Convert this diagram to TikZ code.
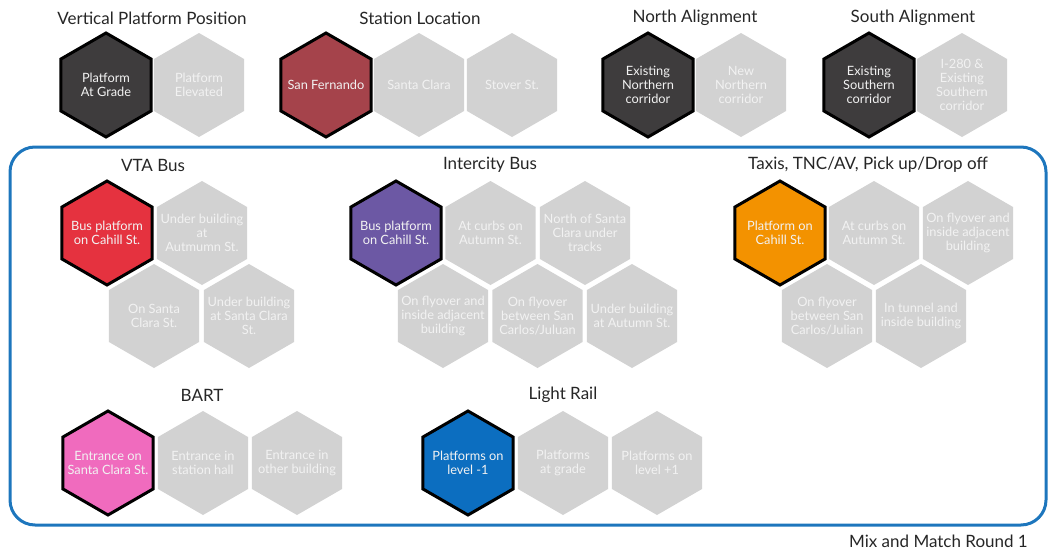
\documentclass[tikz,border=0pt]{standalone}
\usepackage{fontspec}
\setmainfont{Lato}
\usepackage{xcolor}
\usepackage{tikz}
\definecolor{c1}{HTML}{1D76BD}
\definecolor{c2}{HTML}{D2D2D2}
\definecolor{c3}{HTML}{3E3C3D}
\definecolor{c4}{HTML}{A5434B}
\definecolor{c5}{HTML}{E5323F}
\definecolor{c6}{HTML}{6C58A4}
\definecolor{c7}{HTML}{F39200}
\definecolor{c8}{HTML}{F06BBE}
\definecolor{c9}{HTML}{0C6EC0}
\definecolor{c10}{HTML}{F2F2F2}

% one cell: name, centre, fill, look, text
\newcommand{\hexcell}[5]{%
    \draw[#4, fill=#3] (#2) +(90:52) -- +(150:52) -- +(210:52)
        -- +(270:52) -- +(330:52) -- +(30:52) -- cycle;
    \node[hextext] (#1) at (#2) {#5};}

\begin{document}
\begin{tikzpicture}[x=1pt, y=-1pt,
    picked/.style={draw=black, line width=3pt, line join=miter},
    rest/.style={draw=none},
    hextext/.style={align=center, text=c10, inner sep=0pt, font=\fontsize{12.8}{14}\selectfont},
    title/.style={text=black!85, inner sep=0pt, font=\fontsize{17}{20}\selectfont}]
    \useasboundingbox (0,0) rectangle (1050,554);

    \draw[c1, line width=3pt, rounded corners=25] (10,147) rectangle (1046,525);

    % top row
    \node[title] (vpp) at (152,18) {Vertical Platform Position};
    \hexcell{vpp1}{106,85}{c3}{picked}{Platform\\At Grade}
    \hexcell{vpp2}{199,85}{c2}{rest}{Platform\\Elevated}

    \node[title] (loc) at (420,18) {Station Location};
    \hexcell{loc1}{326,85}{c4}{picked}{San Fernando}
    \hexcell{loc2}{419,85}{c2}{rest}{Santa Clara}
    \hexcell{loc3}{512,85}{c2}{rest}{Stover St.}

    \node[title] (north) at (695,18) {North Alignment};
    \hexcell{north1}{648,85}{c3}{picked}{Existing\\Northern\\corridor}
    \hexcell{north2}{741,85}{c2}{rest}{New\\Northern\\corridor}

    \node[title] (south) at (913,18) {South Alignment};
    \hexcell{south1}{869,85}{c3}{picked}{Existing\\Southern\\corridor}
    \hexcell{south2}{962,85}{c2}{rest}{I-280 \&\\Existing\\Southern\\corridor}

    % inside the frame
    \node[title] (vta) at (153,165) {VTA Bus};
    \hexcell{vta1}{107,233}{c5}{picked}{Bus platform\\on Cahill St.}
    \hexcell{vta2}{202,233}{c2}{rest}{Under building\\at\\Autmumn St.}
    \hexcell{vta3}{154,316}{c2}{rest}{On Santa\\Clara St.}
    \hexcell{vta4}{249,316}{c2}{rest}{Under building\\at Santa Clara\\St.}

    \node[title] (icb) at (490,165) {Intercity Bus};
    \hexcell{icb1}{396,233}{c6}{picked}{Bus platform\\on Cahill St.}
    \hexcell{icb2}{490.5,233}{c2}{rest}{At curbs on\\Autumn St.}
    \hexcell{icb3}{585,233}{c2}{rest}{North of Santa\\Clara under\\tracks}
    \hexcell{icb4}{443,316}{c2}{rest}{On flyover and\\inside adjacent\\building}
    \hexcell{icb5}{537.5,316}{c2}{rest}{On flyover\\between San\\Carlos/Juluan}
    \hexcell{icb6}{632,316}{c2}{rest}{Under building\\at Autumn St.}

    \node[title] (taxi) at (868,165) {Taxis, TNC/AV, Pick up/Drop off};
    \hexcell{taxi1}{780,233}{c7}{picked}{Platform on\\Cahill St.}
    \hexcell{taxi2}{874,233}{c2}{rest}{At curbs on\\Autumn St.}
    \hexcell{taxi3}{968,233}{c2}{rest}{On flyover and\\inside adjacent\\building}
    \hexcell{taxi4}{827,316}{c2}{rest}{On flyover\\between San\\Carlos/Julian}
    \hexcell{taxi5}{921,316}{c2}{rest}{In tunnel and\\inside building}

    \node[title] (bart) at (202,395) {BART};
    \hexcell{bart1}{108,463}{c8}{picked}{Entrance on\\Santa Clara St.}
    \hexcell{bart2}{203,463}{c2}{rest}{Entrance in\\station hall}
    \hexcell{bart3}{297,463}{c2}{rest}{Entrance in\\other building}

    \node[title] (lrt) at (563,395) {Light Rail};
    \hexcell{lrt1}{468,463}{c9}{picked}{Platforms on\\level -1}
    \hexcell{lrt2}{563,463}{c2}{rest}{Platforms\\at grade}
    \hexcell{lrt3}{657,463}{c2}{rest}{Platforms on\\level +1}

    \node[title, anchor=east] (round) at (1028,541) {Mix and Match Round 1};
\end{tikzpicture}
\end{document}
